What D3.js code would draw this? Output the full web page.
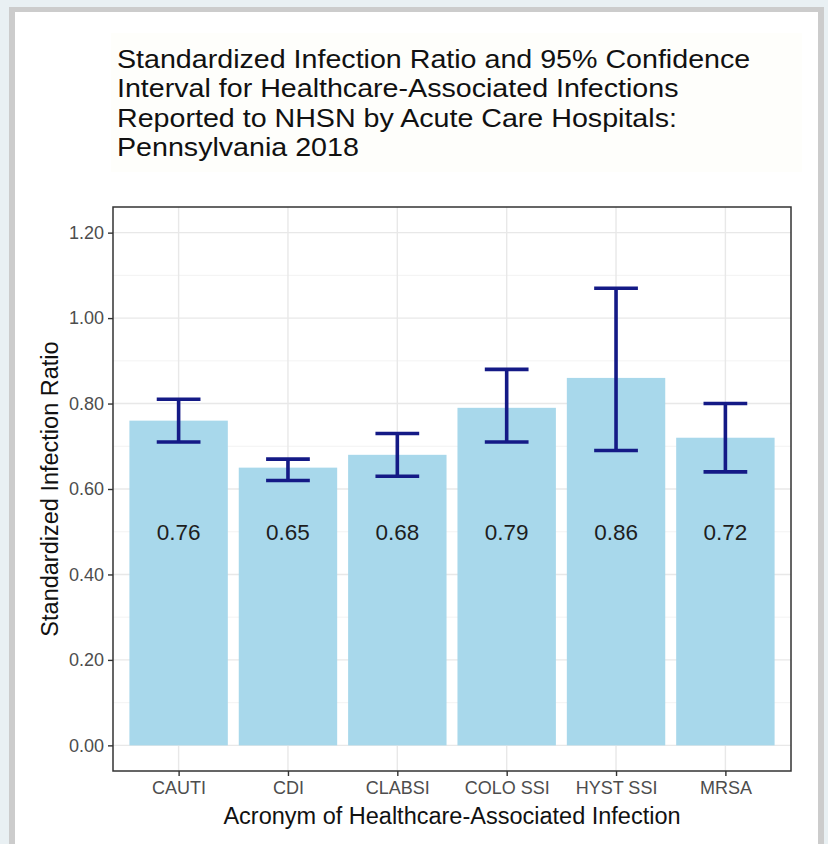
<!DOCTYPE html>
<html>
<head>
<meta charset="utf-8">
<script src="https://cdn.jsdelivr.net/npm/d3@7"></script>
<style>
  html, body { margin: 0; padding: 0; background: #e9f0f3; }
  text { font-family: "Liberation Sans", Arial, sans-serif; }
</style>
</head>
<body>
<script>
// Data
const categories = ["CAUTI", "CDI", "CLABSI", "COLO SSI", "HYST SSI", "MRSA"];
const sir = [0.76, 0.65, 0.68, 0.79, 0.86, 0.72];
const ciLower = [0.71, 0.62, 0.63, 0.71, 0.69, 0.64];
const ciUpper = [0.81, 0.67, 0.73, 0.88, 1.07, 0.80];
const yTicks = [0, 0.2, 0.4, 0.6, 0.8, 1.0, 1.2];
const yMinor = [0.1, 0.3, 0.5, 0.7, 0.9, 1.1];
const titleLines = [
  "Standardized Infection Ratio and 95% Confidence",
  "Interval for Healthcare-Associated Infections",
  "Reported to NHSN by Acute Care Hospitals:",
  "Pennsylvania 2018"
];

const width = 828;
const height = 844;

// panel box
const panel = { left: 113, right: 791, top: 207, bottom: 771 };

const svg = d3.select("body")
  .append("svg")
  .attr("width", width)
  .attr("height", height);

// page frame
svg.append("rect")
  .attr("x", 9).attr("y", 7)
  .attr("width", 815).attr("height", height)
  .attr("fill", "#cccccc");
svg.append("rect")
  .attr("x", 15).attr("y", 12)
  .attr("width", 803).attr("height", height)
  .attr("fill", "#ffffff");

// title (pasted image in original has a faint cream background)
svg.append("rect")
  .attr("x", 111).attr("y", 33)
  .attr("width", 691).attr("height", 139)
  .attr("fill", "#fefefb");

svg.append("g")
  .attr("transform", "translate(117, 0) scale(1.08, 1)")
  .selectAll("text")
  .data(titleLines)
  .enter()
  .append("text")
  .attr("x", 0)
  .attr("y", (d, i) => 68 + i * 29.5)
  .attr("font-size", 26.5)
  .attr("fill", "#111")
  .text(d => d);

// scales
const x = d3.scalePoint()
  .domain(categories)
  .range([panel.left, panel.right])
  .padding(0.6);

const step = x.step();

const y = d3.scaleLinear()
  .domain([-0.06, 1.26])
  .range([panel.bottom, panel.top]);

// grid
const grid = svg.append("g");
grid.selectAll(".minor")
  .data(yMinor)
  .enter()
  .append("line")
  .attr("x1", panel.left).attr("x2", panel.right)
  .attr("y1", d => y(d)).attr("y2", d => y(d))
  .attr("stroke", "#f0f0f0")
  .attr("stroke-width", 0.8);
grid.selectAll(".major")
  .data(yTicks)
  .enter()
  .append("line")
  .attr("x1", panel.left).attr("x2", panel.right)
  .attr("y1", d => y(d)).attr("y2", d => y(d))
  .attr("stroke", "#e8e8e8")
  .attr("stroke-width", 1.4);
grid.selectAll(".vmajor")
  .data(categories)
  .enter()
  .append("line")
  .attr("x1", d => x(d)).attr("x2", d => x(d))
  .attr("y1", panel.top).attr("y2", panel.bottom)
  .attr("stroke", "#e8e8e8")
  .attr("stroke-width", 1.4);

// bars
svg.append("g")
  .selectAll("rect")
  .data(categories)
  .enter()
  .append("rect")
  .attr("x", d => x(d) - step * 0.45)
  .attr("width", step * 0.9)
  .attr("y", (d, i) => y(sir[i]))
  .attr("height", (d, i) => y(0) - y(sir[i]))
  .attr("fill", "#a8d8eb");

// error bars
const eb = svg.append("g")
  .attr("stroke", "#141a86")
  .attr("stroke-width", 3.6)
  .attr("fill", "none");

categories.forEach((c, i) => {
  const cx = x(c);
  const hw = step * 0.2;
  eb.append("line")
    .attr("x1", cx).attr("x2", cx)
    .attr("y1", y(ciLower[i])).attr("y2", y(ciUpper[i]));
  eb.append("line")
    .attr("x1", cx - hw).attr("x2", cx + hw)
    .attr("y1", y(ciUpper[i])).attr("y2", y(ciUpper[i]));
  eb.append("line")
    .attr("x1", cx - hw).attr("x2", cx + hw)
    .attr("y1", y(ciLower[i])).attr("y2", y(ciLower[i]));
});

// value labels
svg.append("g")
  .selectAll("text")
  .data(categories)
  .enter()
  .append("text")
  .attr("x", d => x(d))
  .attr("y", y(0.5))
  .attr("dy", "0.36em")
  .attr("text-anchor", "middle")
  .attr("font-size", 22.5)
  .attr("fill", "#1e1e1e")
  .text((d, i) => sir[i].toFixed(2));

// panel border
svg.append("rect")
  .attr("x", panel.left).attr("y", panel.top)
  .attr("width", panel.right - panel.left)
  .attr("height", panel.bottom - panel.top)
  .attr("fill", "none")
  .attr("stroke", "#333")
  .attr("stroke-width", 1.5);

// axes
const yAxis = d3.axisLeft(y)
  .tickValues(yTicks)
  .tickFormat(d3.format(".2f"))
  .tickSize(5)
  .tickPadding(4);

const yAxisGroup = svg.append("g")
  .attr("transform", `translate(${panel.left}, 0)`)
  .call(yAxis);

const xAxis = d3.axisBottom(x)
  .tickSize(5)
  .tickPadding(5);

const xAxisGroup = svg.append("g")
  .attr("transform", `translate(0, ${panel.bottom})`)
  .call(xAxis);

[yAxisGroup, xAxisGroup].forEach(g => {
  g.select(".domain").remove();
  g.selectAll(".tick line").attr("stroke", "#333").attr("stroke-width", 1.4);
  g.selectAll(".tick text")
    .attr("font-size", 18)
    .attr("font-family", "Liberation Sans, Arial, sans-serif")
    .attr("fill", "#4d4d4d");
});

// axis titles
svg.append("text")
  .attr("x", (panel.left + panel.right) / 2)
  .attr("y", 824)
  .attr("text-anchor", "middle")
  .attr("font-size", 23.5)
  .attr("fill", "#111")
  .text("Acronym of Healthcare-Associated Infection");

svg.append("text")
  .attr("transform", `translate(58, ${(panel.top + panel.bottom) / 2}) rotate(-90)`)
  .attr("text-anchor", "middle")
  .attr("font-size", 23.5)
  .attr("fill", "#111")
  .text("Standardized Infection Ratio");
</script>
</body>
</html>
